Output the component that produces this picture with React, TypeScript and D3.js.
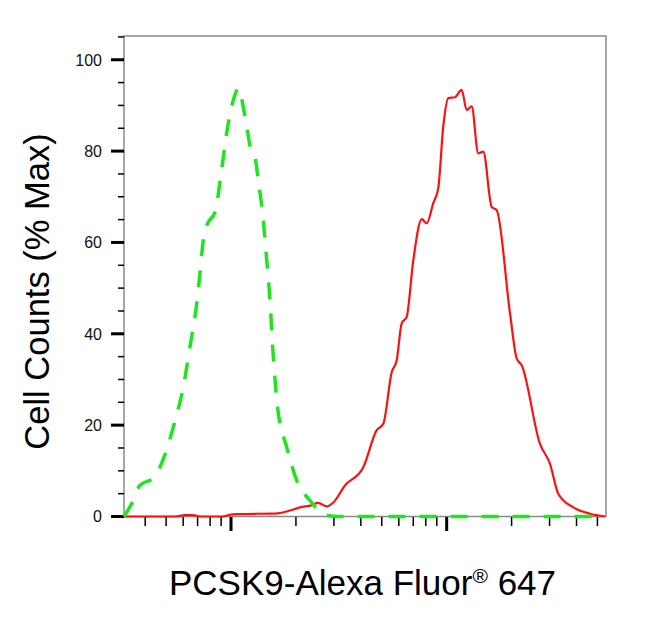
import * as d3 from "d3";
import { useEffect, useRef } from "react";

// isotype control (green, dashed): fluorescence, % max
const isoX = [319, 347, 378, 441, 489, 546, 601, 645, 701, 718, 752, 782, 843, 905, 955, 1043, 1081, 1161, 1247, 1292, 1339, 1411, 1464, 1516, 1560, 1651, 1812, 2016, 2324, 2779, 3200, 54800];
const isoY = [0, 2.9, 6.8, 8.6, 13, 20.4, 28.4, 37.1, 48.5, 53.3, 62.1, 64.3, 66.7, 75.9, 84, 92.3, 93.8, 87.6, 79.6, 78.5, 73.5, 64.9, 56.1, 47.4, 37.1, 23.2, 15.2, 7.9, 3.5, 0.2, 0, 0];

// PCSK9 stained (red, solid)
const pcskX = [319, 421, 550, 612, 667, 718, 908, 1000, 1066, 1651, 1877, 2089, 2374, 2532, 2787, 2972, 3378, 4106, 4737, 5083, 5559, 5864, 6185, 6524, 7002, 7657, 8077, 8667, 9143, 9643, 10172, 10926, 11738, 12378, 13057, 14014, 14780, 16167, 17053, 19664, 21112, 22272, 27073, 30113, 32919, 38641, 46167, 54196];
const pcskY = [0, 0, 0, 0.3, 0.3, 0, 0, 0.4, 0.5, 0.7, 1.3, 2.0, 2.5, 3.0, 2.2, 3.0, 6.8, 10.8, 18.9, 20.3, 31.6, 34.2, 42.3, 43.7, 56.1, 65.1, 64.2, 68.6, 71.9, 85.4, 91.6, 91.8, 93.4, 89, 89.8, 79.5, 79.9, 67.8, 67.1, 44.5, 34.6, 33.1, 15.9, 11.6, 5, 2, 0.6, 0];

const yTicks = [0, 20, 40, 60, 80, 100];
const xMajor = [1000, 10000];

const W = 661;
const H = 631;
const FONT = "'Liberation Sans', Arial, sans-serif";

export default function App() {
  const svgRef = useRef<SVGSVGElement>(null);

  useEffect(() => {
    if (!svgRef.current) return;
    const svg = d3.select(svgRef.current);
    svg.selectAll("*").remove();

    const x = d3.scaleLog().domain([319, 54800]).range([124, 606]);
    const y = d3.scaleLinear().domain([0, 105.2]).range([516.5, 36]);

    // frame
    svg
      .append("rect")
      .attr("x", 124)
      .attr("y", 36)
      .attr("width", 482)
      .attr("height", 480.5)
      .attr("fill", "none")
      .attr("stroke", "#8a8a8a")
      .attr("stroke-width", 1.5);

    // y ticks
    const g = svg.append("g");
    d3.range(0, 106, 5).forEach((v) => {
      const major = v % 20 === 0;
      g.append("line")
        .attr("x1", major ? 111 : 118)
        .attr("x2", 124)
        .attr("y1", y(v))
        .attr("y2", y(v))
        .attr("stroke", "#000")
        .attr("stroke-width", major ? 3 : 1.5);
    });
    yTicks.forEach((v) => {
      g.append("text")
        .attr("x", 102)
        .attr("y", y(v))
        .attr("dy", "0.36em")
        .attr("text-anchor", "end")
        .attr("font-family", FONT)
        .attr("font-size", 16)
        .attr("fill", "#111")
        .text(v);
    });

    // x ticks (log)
    const [lo, hi] = x.domain();
    const minors: number[] = [];
    for (let e = 2; e <= 4; e++) {
      for (let k = 1; k <= 9; k++) {
        const v = k * Math.pow(10, e);
        if (v > lo && v < hi && !xMajor.includes(v)) minors.push(v);
      }
    }
    minors.forEach((v) => {
      g.append("line")
        .attr("x1", x(v))
        .attr("x2", x(v))
        .attr("y1", 517)
        .attr("y2", 526)
        .attr("stroke", "#000")
        .attr("stroke-width", 1.5);
    });
    xMajor.forEach((v) => {
      g.append("line")
        .attr("x1", x(v))
        .attr("x2", x(v))
        .attr("y1", 517)
        .attr("y2", 531)
        .attr("stroke", "#000")
        .attr("stroke-width", 3);
    });

    const line = d3
      .line<[number, number]>()
      .x((d) => x(d[0]))
      .y((d) => y(d[1]));

    // red stained
    svg
      .append("path")
      .attr("d", line.curve(d3.curveMonotoneX)(pcskX.map((v, i) => [v, pcskY[i]])))
      .attr("fill", "none")
      .attr("stroke", "#ff1010")
      .attr("stroke-width", 2.2)
      .attr("stroke-linejoin", "round");

    // green isotype
    svg
      .append("path")
      .attr("d", line.curve(d3.curveMonotoneX)(isoX.map((v, i) => [v, isoY[i]])))
      .attr("fill", "none")
      .attr("stroke", "#1ee61e")
      .attr("stroke-width", 3.5)
      .attr("stroke-dasharray", "17,14");

    // axis titles
    svg
      .append("text")
      .attr("transform", `translate(49,291.5) rotate(-90)`)
      .attr("text-anchor", "middle")
      .attr("font-family", FONT)
      .attr("font-size", 34.5)
      .attr("fill", "#000")
      .text("Cell Counts (% Max)");

    const xt = svg
      .append("text")
      .attr("x", 362.5)
      .attr("y", 595)
      .attr("text-anchor", "middle")
      .attr("font-family", FONT)
      .attr("font-size", 35)
      .attr("fill", "#000");
    xt.append("tspan").text("PCSK9-Alexa Fluor");
    xt.append("tspan").attr("font-size", 21).attr("dy", -12).text("®");
    xt.append("tspan").attr("dy", 12).text(" 647");
  }, []);

  return (
    <svg
      ref={svgRef}
      width={W}
      height={H}
      style={{ position: "absolute", left: 0, top: 0, background: "#fff" }}
    />
  );
}
